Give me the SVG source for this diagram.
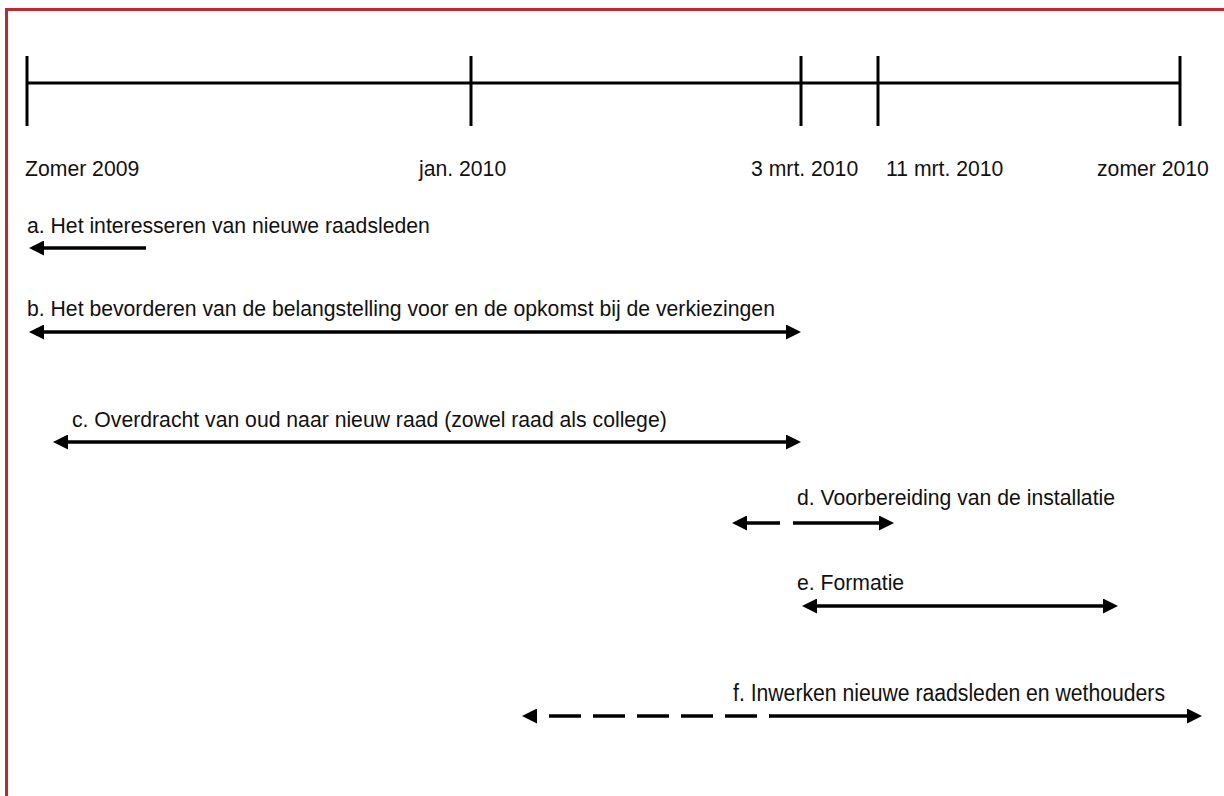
<svg xmlns="http://www.w3.org/2000/svg" width="1224" height="796" viewBox="0 0 1224 796">
<style>
.t{font-family:"Liberation Sans",Arial,sans-serif;font-size:21.2px;fill:#111}
.tl{stroke:#000;stroke-width:3;fill:none}
.ar{stroke:#000;stroke-width:3.5;fill:none}
.border{stroke:#c1272d;stroke-width:3;fill:none}
</style>
<defs>
<marker id="ah" viewBox="0 0 15 15" refX="0" refY="7.5" markerWidth="15" markerHeight="15" markerUnits="userSpaceOnUse" orient="auto-start-reverse">
<path d="M0,0 L15,7.5 L0,15 z" fill="#000"/>
</marker>
</defs>
<rect width="1224" height="796" fill="#fff"/>
<g id="border">
<line class="border" x1="5" y1="9.5" x2="1224" y2="9.5"/>
<line class="border" x1="6.5" y1="8" x2="6.5" y2="796"/>
</g>
<g id="timeline">
<line class="tl" x1="27" y1="83" x2="1180" y2="83"/>
<line class="tl" x1="27" y1="56" x2="27" y2="126"/>
<line class="tl" x1="471" y1="56" x2="471" y2="126"/>
<line class="tl" x1="801" y1="56" x2="801" y2="126"/>
<line class="tl" x1="878" y1="56" x2="878" y2="126"/>
<line class="tl" x1="1180" y1="56" x2="1180" y2="126"/>
</g>
<g id="dates">
<text class="t" x="25" y="176">Zomer 2009</text>
<text class="t" x="419" y="176">jan. 2010</text>
<text class="t" x="751" y="176">3 mrt. 2010</text>
<text class="t" x="886" y="176">11 mrt. 2010</text>
<text class="t" x="1097" y="176">zomer 2010</text>
</g>
<g id="node-a"><text class="t" x="27" y="233">a. Het interesseren van nieuwe raadsleden</text></g>
<g id="node-b"><text class="t" x="27" y="316">b. Het bevorderen van de belangstelling voor en de opkomst bij de verkiezingen</text></g>
<g id="node-c"><text class="t" x="72" y="427">c. Overdracht van oud naar nieuw raad (zowel raad als college)</text></g>
<g id="node-d"><text class="t" x="797" y="505">d. Voorbereiding van de installatie</text></g>
<g id="node-e"><text class="t" x="797" y="590">e. Formatie</text></g>
<g id="node-f"><text class="t" x="733" y="701" style="font-size:23px" textLength="432" lengthAdjust="spacingAndGlyphs">f. Inwerken nieuwe raadsleden en wethouders</text></g>
<g id="connectors">
<line class="ar" x1="44" y1="248" x2="146" y2="248" marker-start="url(#ah)"/>
<line class="ar" x1="44" y1="332" x2="786" y2="332" marker-start="url(#ah)" marker-end="url(#ah)"/>
<line class="ar" x1="68" y1="442" x2="786" y2="442" marker-start="url(#ah)" marker-end="url(#ah)"/>
<line class="ar" x1="747" y1="523" x2="800" y2="523" stroke-dasharray="33 13" marker-start="url(#ah)"/>
<line class="ar" x1="800" y1="523" x2="879" y2="523" marker-end="url(#ah)"/>
<line class="ar" x1="817" y1="606" x2="1103" y2="606" marker-start="url(#ah)" marker-end="url(#ah)"/>
<line class="ar" x1="537" y1="716" x2="770" y2="716" stroke-dasharray="32 12" stroke-dashoffset="32" marker-start="url(#ah)"/>
<line class="ar" x1="769" y1="716" x2="1187" y2="716" marker-end="url(#ah)"/>
</g>
</svg>
